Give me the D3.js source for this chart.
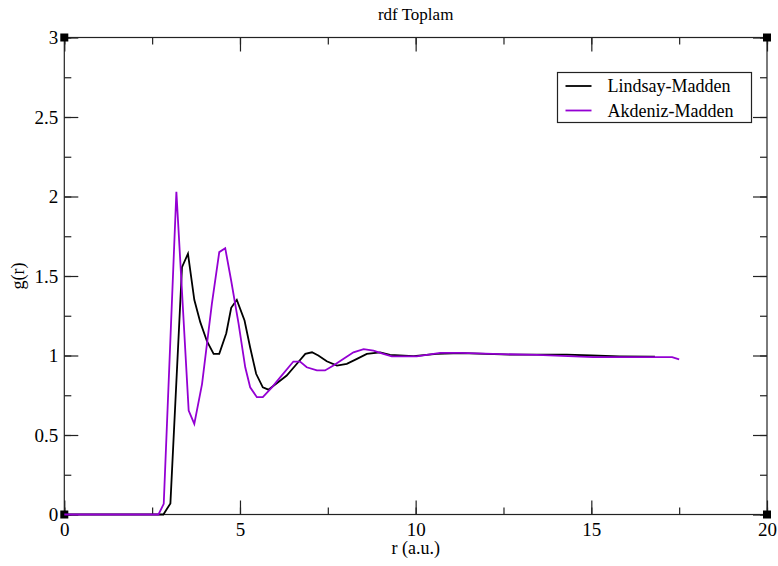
<!DOCTYPE html>
<html>
<head>
<meta charset="utf-8">
<script src="https://cdn.jsdelivr.net/npm/d3@7"></script>
<style>
  body { margin: 0; background: #fff; }
  text { font-family: "Liberation Serif", "Times New Roman", serif; fill: #000; }
</style>
</head>
<body>
<div id="chart"></div>
<script>
// series
const lindsayR = [0, 2.82, 3.02, 3.35, 3.52, 3.70, 3.87, 4.06, 4.25, 4.41, 4.61, 4.75, 4.91, 5.13, 5.29, 5.46, 5.65, 5.81,
  6.15, 6.33, 6.62, 6.86, 7.05, 7.23, 7.47, 7.76, 8.04, 8.33, 8.61, 8.99, 9.27, 9.94, 10.6, 11.3, 12.0, 12.7, 13.5, 14.3, 15.0, 15.8, 16.81];
const lindsayG = [0, 0, 0.07, 1.555, 1.64, 1.35, 1.21, 1.09, 1.01, 1.01, 1.14, 1.30, 1.35, 1.22, 1.05, 0.885, 0.80, 0.785,
  0.843, 0.874, 0.948, 1.01, 1.02, 1.0, 0.964, 0.937, 0.948, 0.979, 1.01, 1.02, 1.004, 0.996, 1.01, 1.015, 1.01, 1.005, 1.005, 1.005, 1.0, 0.995, 0.993];

const akdenizR = [0, 2.68, 2.83, 3.19, 3.54, 3.70, 3.92, 4.20, 4.41, 4.58, 4.75, 4.96, 5.15, 5.29, 5.48, 5.65, 5.91,
  6.15, 6.52, 6.71, 6.90, 7.19, 7.42, 7.66, 7.95, 8.23, 8.52, 8.80, 9.08, 9.32, 10.03, 10.70, 11.27, 12.2, 13.45, 15.05, 17.3, 17.5];
const akdenizG = [0, 0, 0.067, 2.03, 0.654, 0.57, 0.82, 1.325, 1.65, 1.675, 1.47, 1.20, 0.926, 0.80, 0.738, 0.738, 0.80,
  0.864, 0.962, 0.962, 0.926, 0.906, 0.906, 0.937, 0.979, 1.02, 1.04, 1.03, 1.01, 0.994, 0.994, 1.017, 1.017, 1.01, 1.004, 0.99, 0.99, 0.975];

const seriesNames = ["Lindsay-Madden", "Akdeniz-Madden"];
const seriesColors = ["#000000", "#9400d3"];
const xTicks = [0, 5, 10, 15, 20];
const yTicks = [0, 0.5, 1, 1.5, 2, 2.5, 3];

const W = 778, H = 566;
const margin = {top: 37.5, right: 11, bottom: 51.5, left: 64.3};
const width = W - margin.left - margin.right,
  height = H - margin.top - margin.bottom;

const svg = d3.select("#chart").append("svg")
  .attr("width", W).attr("height", H);

const g = svg.append("g")
  .attr("transform", "translate(" + margin.left + "," + margin.top + ")");

const x = d3.scaleLinear().domain([0, 20]).range([0, width]);
const y = d3.scaleLinear().domain([0, 3]).range([height, 0]);

const minorX = d3.range(0, 20.01, 2.5);
const minorY = d3.range(0, 3.01, 0.25);

// ticks pointing inward on all four sides
const tickStyle = sel => {
  sel.select(".domain").remove();
  sel.selectAll("line").attr("stroke", "#222").attr("stroke-width", 1.2);
};

g.append("g").attr("transform", "translate(0," + height + ")")
  .call(d3.axisBottom(x).tickValues(minorX).tickSize(-7).tickFormat(""))
  .call(tickStyle);
g.append("g").attr("transform", "translate(0," + height + ")")
  .call(d3.axisBottom(x).tickValues(xTicks).tickSize(-14).tickPadding(8).tickFormat(d3.format("d")))
  .call(tickStyle)
  .selectAll("text").attr("font-size", 19);
g.append("g")
  .call(d3.axisTop(x).tickValues(minorX).tickSize(-7).tickFormat(""))
  .call(tickStyle);
g.append("g")
  .call(d3.axisTop(x).tickValues(xTicks).tickSize(-14).tickFormat(""))
  .call(tickStyle);

g.append("g")
  .call(d3.axisLeft(y).tickValues(minorY).tickSize(-7).tickFormat(""))
  .call(tickStyle);
g.append("g")
  .call(d3.axisLeft(y).tickValues(yTicks).tickSize(-14).tickPadding(6).tickFormat(d => d))
  .call(tickStyle)
  .selectAll("text").attr("font-size", 19);
g.append("g").attr("transform", "translate(" + width + ",0)")
  .call(d3.axisRight(y).tickValues(minorY).tickSize(-7).tickFormat(""))
  .call(tickStyle);
g.append("g").attr("transform", "translate(" + width + ",0)")
  .call(d3.axisRight(y).tickValues(yTicks).tickSize(-14).tickFormat(""))
  .call(tickStyle);

// frame
g.append("rect")
  .attr("width", width).attr("height", height)
  .attr("fill", "none").attr("stroke", "#222").attr("stroke-width", 1.2);

// corner markers
[[0, 0], [20, 0], [0, 3], [20, 3]].forEach(c => {
  g.append("rect")
    .attr("x", x(c[0]) - 4).attr("y", y(c[1]) - 4)
    .attr("width", 8).attr("height", 8).attr("fill", "#000");
});

const line = d3.line().x(d => x(d[0])).y(d => y(d[1]));
const seriesData = [
  d3.zip(lindsayR, lindsayG),
  d3.zip(akdenizR, akdenizG)
];
seriesData.forEach((d, i) => {
  g.append("path")
    .datum(d)
    .attr("fill", "none")
    .attr("stroke", seriesColors[i])
    .attr("stroke-width", 1.8)
    .attr("stroke-linejoin", "miter")
    .attr("d", line);
});

// title and axis labels
svg.append("text")
  .attr("x", margin.left + width / 2).attr("y", 20)
  .attr("text-anchor", "middle").attr("font-size", 17)
  .text("rdf Toplam");
svg.append("text")
  .attr("x", margin.left + width / 2).attr("y", 554)
  .attr("text-anchor", "middle").attr("font-size", 18)
  .text("r (a.u.)");
svg.append("text")
  .attr("transform", "translate(24," + (margin.top + height / 2) + ") rotate(-90)")
  .attr("text-anchor", "middle").attr("font-size", 18)
  .text("g(r)");

// legend
const legend = svg.append("g").attr("transform", "translate(557.5,72.5)");
legend.append("rect")
  .attr("width", 194).attr("height", 50)
  .attr("fill", "#fff").attr("stroke", "#222").attr("stroke-width", 1.2);
seriesNames.forEach((name, i) => {
  const ly = 13.5 + i * 24.5;
  legend.append("line")
    .attr("x1", 8).attr("x2", 34).attr("y1", ly).attr("y2", ly)
    .attr("stroke", seriesColors[i]).attr("stroke-width", 1.8);
  legend.append("text")
    .attr("x", 50).attr("y", ly + 6).attr("font-size", 18)
    .text(name);
});
</script>
</body>
</html>
